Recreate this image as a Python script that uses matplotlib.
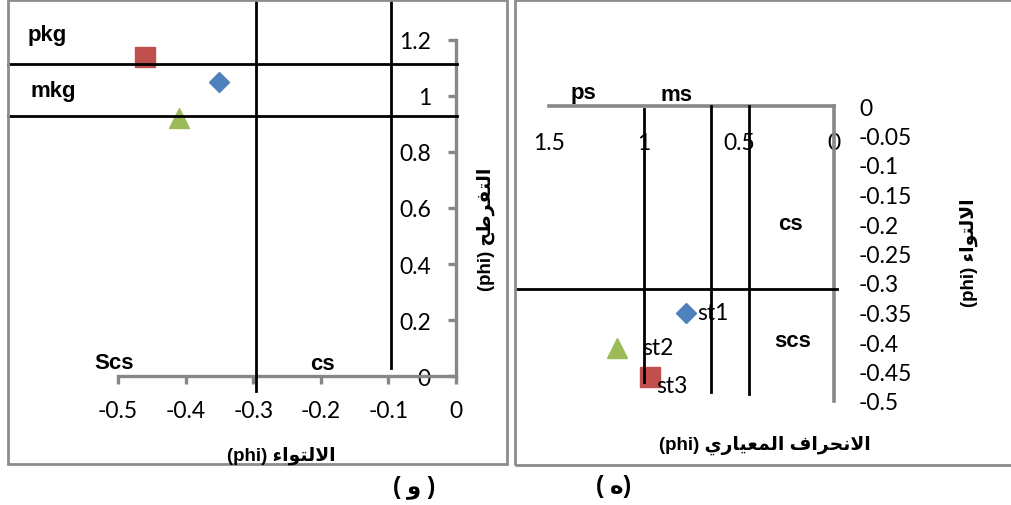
import numpy as np
import matplotlib
matplotlib.use('Agg')
import matplotlib.pyplot as plt
from matplotlib.patches import Rectangle
from matplotlib.transforms import blended_transform_factory as blend

plt.rcParams['font.family'] = ['Lato', 'DejaVu Sans']
plt.rcParams['axes.unicode_minus'] = False

# data
stations = ['st1', 'st2', 'st3']
skewness = [-0.35, -0.41, -0.46]
kurtosis = [1.05, 0.92, 1.14]
sorting = [0.78, 1.14, 0.97]
colors = ['#4F81BD', '#9BBB59', '#C0504D']
markers = ['D', '^', 's']

# class boundaries drawn over the charts
kurt_bounds = [1.114, 0.929]
skew_bounds_left = [-0.296, -0.096]
sort_bounds = [1.0, 0.65, 0.45]
skew_bound_right = -0.31

left_xticks = [-0.5, -0.4, -0.3, -0.2, -0.1, 0]
left_yticks = [0, 0.2, 0.4, 0.6, 0.8, 1.0, 1.2]
right_xticks = [1.5, 1, 0.5, 0]
right_yticks = [0, -0.05, -0.1, -0.15, -0.2, -0.25, -0.3, -0.35, -0.4, -0.45, -0.5]

W, H = 1011, 506
GRAY = '#878787'
BOLD = dict(family=['Liberation Sans', 'DejaVu Sans'], weight='bold')
TICK_FS = 16.5
LAB_FS = 13.5


def fx(px):
    return px / W


def fy(py):
    return 1 - py / H


# minimal arabic shaping: presentation forms + visual (reversed) order
FORMS = {
    '\u0627': (0xFE8D, 0xFE8E),
    '\u062A': (0xFE95, 0xFE96, 0xFE97, 0xFE98),
    '\u062D': (0xFEA1, 0xFEA2, 0xFEA3, 0xFEA4),
    '\u0631': (0xFEAD, 0xFEAE),
    '\u0637': (0xFEC1, 0xFEC2, 0xFEC3, 0xFEC4),
    '\u0639': (0xFEC9, 0xFECA, 0xFECB, 0xFECC),
    '\u0641': (0xFED1, 0xFED2, 0xFED3, 0xFED4),
    '\u0644': (0xFEDD, 0xFEDE, 0xFEDF, 0xFEE0),
    '\u0645': (0xFEE1, 0xFEE2, 0xFEE3, 0xFEE4),
    '\u0646': (0xFEE5, 0xFEE6, 0xFEE7, 0xFEE8),
    '\u0647': (0xFEE9, 0xFEEA, 0xFEEB, 0xFEEC),
    '\u0648': (0xFEED, 0xFEEE),
    '\u064A': (0xFEF1, 0xFEF2, 0xFEF3, 0xFEF4),
    '\u0621': (0xFE80,),
    'LA': (0xFEFB, 0xFEFC),
}


def shape_ar(text):
    seq = []
    i = 0
    while i < len(text):
        if text[i] == '\u0644' and i + 1 < len(text) and text[i + 1] == '\u0627':
            seq.append('LA')
            i += 2
        else:
            seq.append(text[i])
            i += 1
    out = []
    for k, ch in enumerate(seq):
        f = FORMS.get(ch)
        if f is None:
            out.append(ch)
            continue
        prev = seq[k - 1] if k > 0 else None
        nxt = seq[k + 1] if k + 1 < len(seq) else None
        jp = len(FORMS.get(prev, ())) == 4 and len(f) >= 2
        jn = len(f) == 4 and len(FORMS.get(nxt, ())) >= 2
        if jp and jn:
            c = f[3]
        elif jn:
            c = f[2]
        elif jp:
            c = f[1]
        else:
            c = f[0]
        out.append(chr(c))
    return ''.join(reversed(out))


def fmt(v):
    s = f'{v:.2f}'.rstrip('0').rstrip('.')
    return '0' if s in ('-0', '0') else s


fig = plt.figure(figsize=(W / 100, H / 100), dpi=100)

# panel frames
for x0, x1, y0, y1 in [(8, 507, 1, 465), (515, 1013, 1, 466)]:
    fig.add_artist(Rectangle((fx(x0), fy(y1)), fx(x1) - fx(x0), fy(y0) - fy(y1),
                             transform=fig.transFigure, fill=False, ec='#8c8c8c', lw=2))

# ---------------- left panel: skewness vs kurtosis ----------------
axL = fig.add_axes([fx(118), fy(377), fx(456) - fx(118), fy(41) - fy(377)])
axL.patch.set_alpha(0)
axL.set_xlim(-0.5, 0)
axL.set_ylim(0, 1.2)
axL.spines['top'].set_visible(False)
axL.spines['right'].set_visible(False)
axL.spines['left'].set_position(('data', 0))
for s in ['left', 'bottom']:
    axL.spines[s].set_color(GRAY)
    axL.spines[s].set_linewidth(2.4)
axL.set_xticks(left_xticks)
axL.set_xticklabels([fmt(v) for v in left_xticks])
axL.set_yticks(left_yticks)
axL.set_yticklabels([fmt(v) for v in left_yticks])
axL.tick_params(axis='both', direction='out', length=6, width=2.4, color=GRAY,
                labelsize=TICK_FS, labelcolor='black')
axL.tick_params(axis='x', pad=11)
axL.tick_params(axis='y', pad=12)

for x, y, c, m in zip(skewness, kurtosis, colors, markers):
    ms = 10.5 if m == 'D' else 14.4
    axL.plot([x], [y], marker=m, color=c, ms=ms, ls='none', clip_on=False, zorder=3)

hL = blend(fig.transFigure, axL.transData)
for yb in kurt_bounds:
    axL.plot([fx(8), fx(457)], [yb, yb], color='black', lw=2, transform=hL,
             clip_on=False, zorder=4)
vL = blend(axL.transData, fig.transFigure)
for xb, ybot in zip(skew_bounds_left, [392, 369]):
    axL.plot([xb, xb], [fy(1), fy(ybot)], color='black', lw=2, transform=vL,
             clip_on=False, zorder=4)

fig.text(fx(28), fy(41), 'pkg', fontsize=16, va='baseline', **BOLD)
fig.text(fx(30), fy(97), 'mkg', fontsize=16, va='baseline', **BOLD)
fig.text(fx(94), fy(369), 'Scs', fontsize=16, va='baseline', **BOLD)
fig.text(fx(310), fy(370), 'cs', fontsize=16, va='baseline', **BOLD)

fig.text(fx(281), fy(456), '(phi) ' + shape_ar('الالتواء'), fontsize=LAB_FS,
         ha='center', va='center', **BOLD)
fig.text(fx(486), fy(229), '(phi) ' + shape_ar('التفرطح'), fontsize=LAB_FS,
         ha='center', va='center', rotation=90, **BOLD)
fig.text(fx(414), fy(487), '( ' + shape_ar('و') + ' )', fontsize=16.5,
         ha='center', va='center', **BOLD)

# ---------------- right panel: sorting vs skewness ----------------
axR = fig.add_axes([fx(549), fy(402), fx(834) - fx(549), fy(107) - fy(402)])
axR.patch.set_alpha(0)
axR.set_xlim(1.5, 0)
axR.set_ylim(-0.5, 0)
axR.spines['left'].set_visible(False)
axR.spines['bottom'].set_visible(False)
for s in ['top', 'right']:
    axR.spines[s].set_color(GRAY)
    axR.spines[s].set_linewidth(2.6)
axR.xaxis.tick_top()
axR.yaxis.tick_right()
axR.set_xticks(right_xticks)
axR.set_xticklabels([fmt(v) for v in right_xticks])
axR.set_yticks(right_yticks)
axR.set_yticklabels([fmt(v) for v in right_yticks])
axR.tick_params(axis='both', length=0, labelsize=TICK_FS)
axR.tick_params(axis='x', pad=-34)
axR.tick_params(axis='y', pad=18)

offsets = [(8, 0), (18, 0), (5, -6)]
for x, y, c, m, name, off in zip(sorting, skewness, colors, markers, stations, offsets):
    ms = 10.5 if m == 'D' else 14.4
    axR.plot([x], [y], marker=m, color=c, ms=ms, ls='none', clip_on=False, zorder=3)
    axR.annotate(name, (x, y), xytext=off, textcoords='offset points',
                 ha='left', va='center', fontsize=TICK_FS, zorder=5)

vR = blend(axR.transData, fig.transFigure)
for xb, ytop, ybot in zip(sort_bounds, [110, 107, 107], [383, 393, 395]):
    axR.plot([xb, xb], [fy(ytop), fy(ybot)], color='black', lw=2, transform=vR,
             clip_on=False, zorder=4)
hR = blend(fig.transFigure, axR.transData)
axR.plot([fx(517), fx(837)], [skew_bound_right, skew_bound_right], color='black',
         lw=2, transform=hR, clip_on=False, zorder=4)

fig.text(fx(571), fy(99), 'ps', fontsize=16, va='baseline', **BOLD)
fig.text(fx(661), fy(101), 'ms', fontsize=16, va='baseline', **BOLD)
fig.text(fx(778), fy(230), 'cs', fontsize=16, va='baseline', **BOLD)
fig.text(fx(774), fy(347), 'scs', fontsize=16, va='baseline', **BOLD)

fig.text(fx(765), fy(445), '(phi) ' + shape_ar('الانحراف المعياري'), fontsize=LAB_FS,
         ha='center', va='center', **BOLD)
fig.text(fx(969), fy(253), '(phi) ' + shape_ar('الالتواء'), fontsize=LAB_FS,
         ha='center', va='center', rotation=90, **BOLD)
fig.text(fx(614), fy(487), '( ' + shape_ar('ه') + ')', fontsize=16.5,
         ha='center', va='center', **BOLD)

fig.savefig('out.png', dpi=100)
